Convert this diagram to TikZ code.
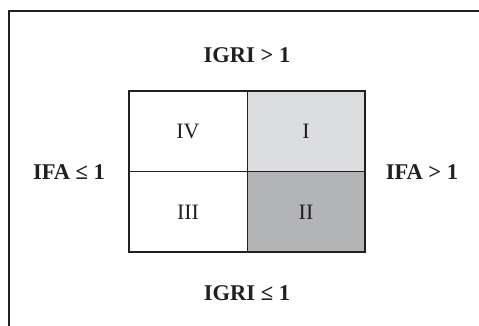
\documentclass[tikz,border=0pt]{standalone}
\usepackage{fontspec}
\setmainfont{Liberation Serif}
\definecolor{lightq}{HTML}{DCDDDF}
\definecolor{darkq}{HTML}{B3B4B6}
\definecolor{ink}{HTML}{231F20}
\begin{document}
\begin{tikzpicture}[x=1pt,y=1pt,
  lab/.style={font=\fontsize{22.5}{24}\selectfont\bfseries, text=ink, inner sep=0pt},
  num/.style={font=\fontsize{22}{24}\selectfont, text=ink, inner sep=0pt}]
\useasboundingbox (0,0) rectangle (479,326);
% outer frame (left and top only)
\draw[ink, line width=2pt] (9,0) -- (9,315) -- (479,315);
% quadrants
\fill[lightq] (247,235) rectangle (365,154);
\fill[darkq] (247,154) rectangle (365,74);
\draw[ink, line width=1pt] (247,235) -- (247,74);
\draw[ink, line width=1pt] (129,154) -- (365,154);
\draw[ink, line width=2pt] (129,74) rectangle (365,235);
\node[num] (q4) at (188,194.5) {IV};
\node[num] (q1) at (306,194.5) {I};
\node[num] (q3) at (188,114) {III};
\node[num] (q2) at (306,114) {II};
\node[lab] (top) at (247,271) {IGRI > 1};
\node[lab] (bot) at (247,33) {IGRI ≤ 1};
\node[lab] (lft) at (69,154) {IFA ≤ 1};
\node[lab] (rgt) at (422,154) {IFA > 1};
\end{tikzpicture}
\end{document}
